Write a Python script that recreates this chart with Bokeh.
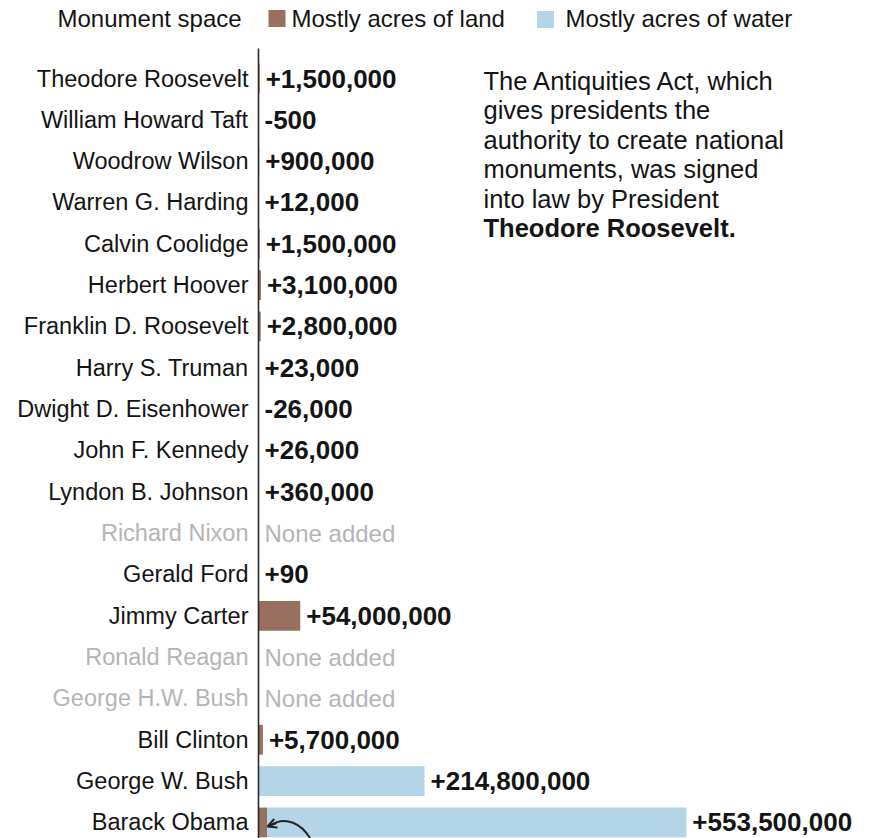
from bokeh.plotting import figure
from bokeh.models import Range1d, Arrow, OpenHead, ColumnDataSource
from bokeh.core.properties import value
from bokeh.embed import file_html
from bokeh.resources import INLINE

# ---------------- data ----------------
presidents = [
    "Theodore Roosevelt", "William Howard Taft", "Woodrow Wilson",
    "Warren G. Harding", "Calvin Coolidge", "Herbert Hoover",
    "Franklin D. Roosevelt", "Harry S. Truman", "Dwight D. Eisenhower",
    "John F. Kennedy", "Lyndon B. Johnson", "Richard Nixon", "Gerald Ford",
    "Jimmy Carter", "Ronald Reagan", "George H.W. Bush", "Bill Clinton",
    "George W. Bush", "Barack Obama",
]
# net acres added (None = none added)
net_acres = [
    1500000, -500, 900000, 12000, 1500000, 3100000, 2800000, 23000, -26000,
    26000, 360000, None, 90, 54000000, None, None, 5700000, 214800000,
    553500000,
]
# portion of the added acres that is mostly water
water_acres = [
    0, 0, 0, 0, 0, 0, 0, 0, 0, 0, 0, 0, 0, 0, 0, 0, 0, 214800000, 542500000,
]
legend_labels = ["Monument space", "Mostly acres of land", "Mostly acres of water"]
note_lines = [
    "The Antiquities Act, which",
    "gives presidents the",
    "authority to create national",
    "monuments, was signed",
    "into law by President",
]
note_bold = "Theodore Roosevelt."

# ---------------- style / layout ----------------
LAND = "#98705f"
WATER = "#b3d5e7"
INK = "#141414"
GREY = "#b5b5b5"
FONT = value("Liberation Sans")

W, H = 865, 838
PX_PER_M = 0.773      # pixels per million acres
AXIS_PX = 258         # x pixel of zero
ROW0_PX = 78          # y pixel (from top) of first row
ROW_PX = 41.33        # row pitch


def xr(X):
    """page x pixel -> data x (millions of acres)"""
    return (X - AXIS_PX) / PX_PER_M


def yr(Y):
    """page y pixel -> data row"""
    return (Y - ROW0_PX) / ROW_PX


p = figure(
    width=W, height=H, output_backend="svg", toolbar_location=None,
    x_axis_location=None, y_axis_location=None,
    x_range=Range1d(-AXIS_PX / PX_PER_M, (W - AXIS_PX) / PX_PER_M),
    y_range=Range1d((H - ROW0_PX) / ROW_PX, -ROW0_PX / ROW_PX),
    min_border=0, min_border_left=0, min_border_right=0,
    min_border_top=0, min_border_bottom=0,
)
p.grid.visible = False
p.outline_line_color = None
p.background_fill_color = "white"
p.border_fill_color = "white"

rows = list(range(len(presidents)))
land_m, water_left, water_right, label_x, labels, label_color = [], [], [], [], [], []
name_color, label_style = [], []
for n, w in zip(net_acres, water_acres):
    if n is None:
        land_m.append(0); water_left.append(0); water_right.append(0)
        label_x.append(0); labels.append("None added"); label_color.append(GREY)
        name_color.append(GREY); label_style.append("normal")
        continue
    land = max(n - w, 0) / 1e6
    land_m.append(land)
    water_left.append(land)
    water_right.append(land + w / 1e6)
    label_x.append(max(n, 0) / 1e6)
    labels.append(("+" if n > 0 else "-") + f"{abs(n):,}")
    label_color.append(INK)
    name_color.append(INK)
    label_style.append("bold")

src = ColumnDataSource(dict(
    y=rows, name=presidents, land=land_m, wl=water_left, wr=water_right,
    lx=label_x, lab=labels, lc=label_color, nc=name_color, ls=label_style,
))

# bars
p.hbar(y="y", left=0, right="land", height=0.72, source=src,
       fill_color=LAND, line_color=None)
p.hbar(y="y", left="wl", right="wr", height=0.72, source=src,
       fill_color=WATER, line_color=None)

# axis line
p.segment(x0=[0], y0=[yr(48)], x1=[0], y1=[yr(900)], line_color="#2a2a2a",
          line_width=1.6)

# names
p.text(x=0, y="y", text="name", source=src, x_offset=-10,
       text_align="right", text_baseline="middle", text_font=FONT,
       text_font_size="23.5px", text_color="nc")

# value labels
bold_idx = [i for i, s in enumerate(label_style) if s == "bold"]
norm_idx = [i for i, s in enumerate(label_style) if s != "bold"]
p.text(x=[label_x[i] for i in bold_idx], y=[rows[i] for i in bold_idx],
       text=[labels[i] for i in bold_idx], x_offset=6,
       text_align="left", text_baseline="middle", text_font=FONT,
       text_font_size="26px", text_font_style="bold", text_color=INK)
p.text(x=[label_x[i] for i in norm_idx], y=[rows[i] for i in norm_idx],
       text=[labels[i] for i in norm_idx], x_offset=6,
       text_align="left", text_baseline="middle", text_font=FONT,
       text_font_size="24px", text_color=GREY)

# legend
p.text(x=[xr(57)], y=[yr(18)], text=[legend_labels[0]], text_align="left",
       text_baseline="middle", text_font=FONT, text_font_size="24px",
       text_color=INK)
p.scatter(x=[xr(276.5)], y=[yr(18)], marker="square", size=17,
          fill_color=LAND, line_color=None)
p.text(x=[xr(291)], y=[yr(18)], text=[legend_labels[1]], text_align="left",
       text_baseline="middle", text_font=FONT, text_font_size="24px",
       text_color=INK)
p.scatter(x=[xr(545)], y=[yr(19)], marker="square", size=17,
          fill_color=WATER, line_color=None)
p.text(x=[xr(565)], y=[yr(18)], text=[legend_labels[2]], text_align="left",
       text_baseline="middle", text_font=FONT, text_font_size="24px",
       text_color=INK)

# note
note_y = [yr(80 + 29.5 * i) for i in range(len(note_lines))]
p.text(x=[xr(483)] * len(note_lines), y=note_y, text=note_lines,
       text_align="left", text_baseline="middle", text_font=FONT,
       text_font_size="25.5px", text_color=INK)
p.text(x=[xr(483)], y=[yr(80 + 29.5 * len(note_lines))], text=[note_bold],
       text_align="left", text_baseline="middle", text_font=FONT,
       text_font_size="25.5px", text_font_style="bold", text_color=INK)

# pointer arrow to Obama's land portion
p.bezier(x0=[xr(270)], y0=[yr(825)], x1=[xr(312)], y1=[yr(842)],
         cx0=[xr(284)], cy0=[yr(815)], cx1=[xr(302)], cy1=[yr(822)],
         line_color="#222222", line_width=2)
p.add_layout(Arrow(end=OpenHead(size=9, line_width=2, line_color="#222222"),
                   x_start=xr(276), y_start=yr(822.5), x_end=xr(267),
                   y_end=yr(826), line_color="#222222", line_width=2))

open("out.html", "w").write(file_html(p, INLINE))
